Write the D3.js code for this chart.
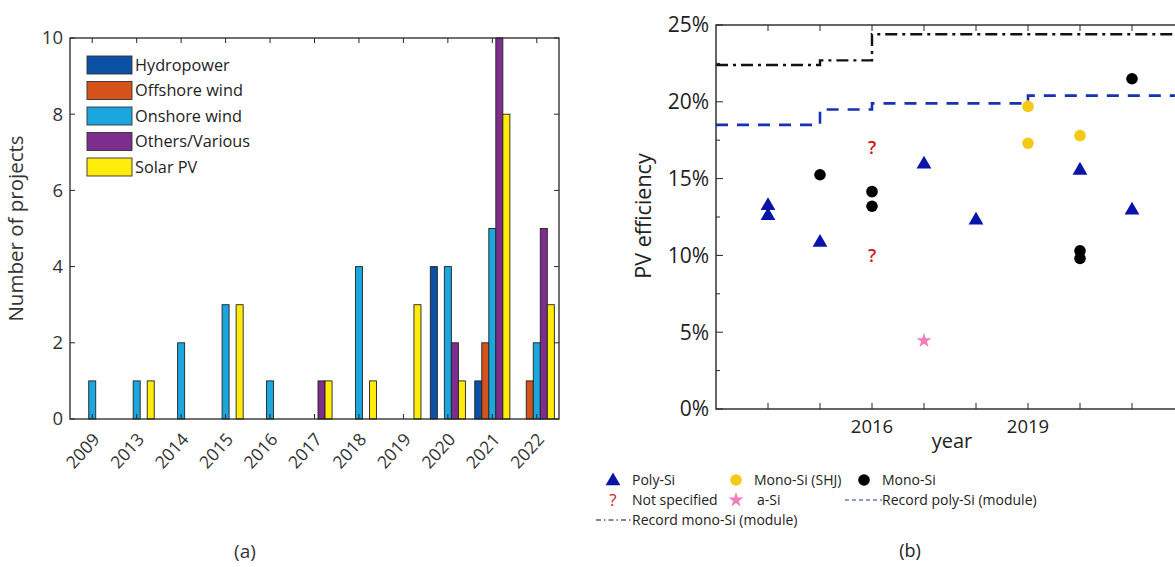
<!DOCTYPE html>
<html>
<head>
<meta charset="utf-8">
<script src="https://cdn.jsdelivr.net/npm/d3@7"></script>
<style>
  body { margin: 0; background: #fff; }
  svg { font-family: "Open Sans", sans-serif; }
</style>
</head>
<body>
<script>
// ---- data (a) ----
var years = ['2009', '2013', '2014', '2015', '2016', '2017', '2018', '2019', '2020', '2021', '2022'];
var seriesNames = ['Hydropower', 'Offshore wind', 'Onshore wind', 'Others/Various', 'Solar PV'];
var seriesColors = ['#0b50a2', '#d4531a', '#1ba6de', '#7d2e8c', '#ffec0a'];
var hydro = [0, 0, 0, 0, 0, 0, 0, 0, 4, 1, 0];
var offshore = [0, 0, 0, 0, 0, 0, 0, 0, 0, 2, 1];
var onshore = [1, 1, 2, 3, 1, 0, 4, 0, 4, 5, 2];
var others = [0, 0, 0, 0, 0, 1, 0, 0, 2, 10, 5];
var solar = [0, 1, 0, 3, 0, 1, 1, 3, 1, 8, 3];
var countTicks = [0, 2, 4, 6, 8, 10];

// ---- data (b) ----
var polyYear = [2014, 2014, 2015, 2017, 2018, 2020, 2021];
var polyEff = [13.3, 12.65, 10.9, 16.0, 12.35, 15.6, 13.0];
var monoYear = [2015, 2016, 2016, 2020, 2020, 2021];
var monoEff = [15.25, 14.15, 13.2, 10.3, 9.8, 21.5];
var shjYear = [2019, 2019, 2020];
var shjEff = [19.7, 17.3, 17.8];
var unkYear = [2016, 2016];
var unkEff = [17.0, 10.0];
var asiYear = [2017];
var asiEff = [4.45];
var recPolyYear = [2013, 2015, 2016, 2019, 2023];
var recPolyEff = [18.5, 19.5, 19.9, 20.4, 20.4];
var recMonoYear = [2013, 2015, 2016, 2023];
var recMonoEff = [22.4, 22.7, 24.4, 24.4];
var effTicks = [0, 5, 10, 15, 20, 25];
var yearLabels = [2016, 2019];

var svg = d3.select('body').append('svg')
    .attr('width', 1175)
    .attr('height', 567);

var axisColor = '#262626';

// ================= (a) grouped bars =================
var a = { left: 70, right: 559, top: 38, bottom: 419 };
var matrix = [hydro, offshore, onshore, others, solar];

var x0 = d3.scaleBand().domain(years).range([a.left, a.right]).padding(0);
var x1 = d3.scaleBand().domain(d3.range(5))
    .range([0, x0.bandwidth() * 0.79]);
var ya = d3.scaleLinear().domain([0, 10]).range([a.bottom, a.top]);
var groupOffset = (x0.bandwidth() - x0.bandwidth() * 0.79) / 2;

var ga = svg.append('g');
years.forEach(function (yr, i) {
    matrix.forEach(function (s, k) {
        if (s[i] > 0) {
            ga.append('rect')
                .attr('x', x0(yr) + groupOffset + x1(k))
                .attr('y', ya(s[i]))
                .attr('width', x1.bandwidth())
                .attr('height', ya(0) - ya(s[i]))
                .attr('fill', seriesColors[k])
                .attr('stroke', '#222')
                .attr('stroke-width', 0.9);
        }
    });
});

// frame
ga.append('rect')
    .attr('x', a.left).attr('y', a.top)
    .attr('width', a.right - a.left).attr('height', a.bottom - a.top)
    .attr('fill', 'none').attr('stroke', axisColor).attr('stroke-width', 1.3);

// ticks
years.forEach(function (yr) {
    var cx = x0(yr) + x0.bandwidth() / 2;
    ga.append('line').attr('x1', cx).attr('x2', cx).attr('y1', a.bottom).attr('y2', a.bottom - 5)
        .attr('stroke', axisColor).attr('stroke-width', 1);
    ga.append('line').attr('x1', cx).attr('x2', cx).attr('y1', a.top).attr('y2', a.top + 5)
        .attr('stroke', axisColor).attr('stroke-width', 1);
    ga.append('text')
        .attr('transform', 'translate(' + (cx + 4) + ',' + (a.bottom + 17) + ') rotate(-48)')
        .attr('text-anchor', 'end')
        .attr('dy', '0.35em')
        .attr('font-size', 17.5)
        .attr('fill', '#333')
        .text(yr);
});
countTicks.forEach(function (t) {
    ga.append('line').attr('x1', a.left).attr('x2', a.left + 5).attr('y1', ya(t)).attr('y2', ya(t))
        .attr('stroke', axisColor);
    ga.append('line').attr('x1', a.right).attr('x2', a.right - 5).attr('y1', ya(t)).attr('y2', ya(t))
        .attr('stroke', axisColor);
    ga.append('text')
        .attr('x', a.left - 7).attr('y', ya(t))
        .attr('dy', '0.35em')
        .attr('text-anchor', 'end')
        .attr('font-size', 18.5)
        .attr('fill', '#333')
        .text(t);
});
ga.append('text')
    .attr('transform', 'translate(23,' + ((a.top + a.bottom) / 2) + ') rotate(-90)')
    .attr('text-anchor', 'middle')
    .attr('font-size', 20.5)
    .attr('fill', '#333')
    .text('Number of projects');

// legend (a)
var lgA = ga.append('g').attr('transform', 'translate(87,56)');
seriesNames.forEach(function (n, k) {
    lgA.append('rect')
        .attr('x', 0).attr('y', k * 25.5)
        .attr('width', 45).attr('height', 18)
        .attr('fill', seriesColors[k])
        .attr('stroke', '#333').attr('stroke-width', 0.9);
    lgA.append('text')
        .attr('x', 48).attr('y', k * 25.5 + 9)
        .attr('dy', '0.35em')
        .attr('font-size', 16.3)
        .attr('fill', '#222')
        .text(n);
});

svg.append('text')
    .attr('x', 245).attr('y', 551)
    .attr('dy', '0.35em')
    .attr('text-anchor', 'middle')
    .attr('font-size', 19)
    .attr('fill', '#333')
    .text('(a)');

// ================= (b) PV efficiency =================
var b = { left: 716, top: 25, bottom: 409 };
var xb = d3.scaleLinear().domain([2013, 2022]).range([b.left, b.left + 9 * 52]);
var yb = d3.scaleLinear().domain([0, 25]).range([b.bottom, b.top]);

var gb = svg.append('g');

// record lines
var stepLine = d3.line()
    .x(function (d) { return xb(d[0]); })
    .y(function (d) { return yb(d[1]); })
    .curve(d3.curveStepAfter);

gb.append('path')
    .attr('d', stepLine(d3.zip(recPolyYear, recPolyEff)))
    .attr('fill', 'none')
    .attr('stroke', '#1832b4')
    .attr('stroke-width', 2.6)
    .attr('stroke-dasharray', '12,9');

gb.append('path')
    .attr('d', stepLine(d3.zip(recMonoYear, recMonoEff)))
    .attr('fill', 'none')
    .attr('stroke', '#111')
    .attr('stroke-width', 2.4)
    .attr('stroke-dasharray', '12,5,3,5');

// frame (right side runs off the page)
gb.append('rect')
    .attr('x', b.left).attr('y', b.top)
    .attr('width', xb(2022) - b.left).attr('height', b.bottom - b.top)
    .attr('fill', 'none').attr('stroke', axisColor).attr('stroke-width', 1.4);

d3.range(2014, 2023).forEach(function (yr) {
    gb.append('line').attr('x1', xb(yr)).attr('x2', xb(yr)).attr('y1', b.bottom).attr('y2', b.bottom - 6)
        .attr('stroke', axisColor);
    gb.append('line').attr('x1', xb(yr)).attr('x2', xb(yr)).attr('y1', b.top).attr('y2', b.top + 6)
        .attr('stroke', axisColor);
});
yearLabels.forEach(function (yr) {
    gb.append('text')
        .attr('x', xb(yr)).attr('y', b.bottom + 18)
        .attr('dy', '0.35em')
        .attr('text-anchor', 'middle')
        .attr('font-size', 18.5)
        .attr('fill', '#222')
        .text(yr);
});
d3.range(0, 25.1, 2.5).forEach(function (t) {
    var major = effTicks.indexOf(t) >= 0;
    gb.append('line').attr('x1', b.left).attr('x2', b.left + (major ? 7 : 4))
        .attr('y1', yb(t)).attr('y2', yb(t))
        .attr('stroke', axisColor);
});
effTicks.forEach(function (t) {
    gb.append('text')
        .attr('x', b.left - 7).attr('y', yb(t))
        .attr('dy', '0.35em')
        .attr('text-anchor', 'end')
        .attr('font-size', 21)
        .attr('fill', '#222')
        .text(t + '%');
});
gb.append('text')
    .attr('transform', 'translate(651,216) rotate(-90)')
    .attr('text-anchor', 'middle')
    .attr('font-size', 21.5)
    .attr('fill', '#222')
    .text('PV efficiency');
gb.append('text')
    .attr('x', 952).attr('y', 441)
    .attr('dy', '0.35em')
    .attr('text-anchor', 'middle')
    .attr('font-size', 20)
    .attr('fill', '#222')
    .text('year');

var triangle = d3.symbol().type(d3.symbolTriangle).size(95);
var star = d3.symbol().type(d3.symbolStar).size(70);

// markers
d3.zip(shjYear, shjEff).forEach(function (d) {
    gb.append('circle').attr('cx', xb(d[0])).attr('cy', yb(d[1])).attr('r', 5.8).attr('fill', '#f5c918');
});
d3.zip(monoYear, monoEff).forEach(function (d) {
    gb.append('circle').attr('cx', xb(d[0])).attr('cy', yb(d[1])).attr('r', 5.8).attr('fill', '#000');
});
d3.zip(polyYear, polyEff).forEach(function (d) {
    gb.append('path').attr('d', triangle)
        .attr('transform', 'translate(' + xb(d[0]) + ',' + (yb(d[1]) + 1) + ')')
        .attr('fill', '#0a14a8');
});
d3.zip(unkYear, unkEff).forEach(function (d) {
    gb.append('text')
        .attr('x', xb(d[0])).attr('y', yb(d[1]))
        .attr('dy', '0.36em')
        .attr('text-anchor', 'middle')
        .attr('font-size', 18)
        .attr('font-weight', 600)
        .attr('fill', '#d2181c')
        .text('?');
});
d3.zip(asiYear, asiEff).forEach(function (d) {
    gb.append('path').attr('d', star)
        .attr('transform', 'translate(' + xb(d[0]) + ',' + yb(d[1]) + ')')
        .attr('fill', '#f07db5');
});

// legend (b)
var lgB = svg.append('g').attr('font-size', 14).attr('fill', '#222');
lgB.append('path').attr('d', triangle).attr('transform', 'translate(613,481)').attr('fill', '#0a14a8');
lgB.append('text').attr('x', 632).attr('y', 480).attr('dy', '0.35em').text('Poly-Si');
lgB.append('circle').attr('cx', 736).attr('cy', 480).attr('r', 5.8).attr('fill', '#f5c918');
lgB.append('text').attr('x', 754).attr('y', 480).attr('dy', '0.35em').text('Mono-Si (SHJ)');
lgB.append('circle').attr('cx', 864).attr('cy', 480).attr('r', 5.8).attr('fill', '#000');
lgB.append('text').attr('x', 882).attr('y', 480).attr('dy', '0.35em').text('Mono-Si');

lgB.append('text').attr('x', 613).attr('y', 500).attr('dy', '0.36em').attr('text-anchor', 'middle')
    .attr('font-size', 17).attr('fill', '#d2181c').text('?');
lgB.append('text').attr('x', 632).attr('y', 500).attr('dy', '0.35em').text('Not specified');
lgB.append('path').attr('d', star).attr('transform', 'translate(736,500)').attr('fill', '#f07db5');
lgB.append('text').attr('x', 757).attr('y', 500).attr('dy', '0.35em').text('a-Si');
lgB.append('line').attr('x1', 845).attr('x2', 882).attr('y1', 500).attr('y2', 500)
    .attr('stroke', '#1832b4').attr('stroke-width', 1).attr('stroke-dasharray', '4,3');
lgB.append('text').attr('x', 882).attr('y', 500).attr('dy', '0.35em').text('Record poly-Si (module)');

lgB.append('line').attr('x1', 596).attr('x2', 632).attr('y1', 520).attr('y2', 520)
    .attr('stroke', '#111').attr('stroke-width', 1).attr('stroke-dasharray', '5,3,1.5,3');
lgB.append('text').attr('x', 632).attr('y', 520).attr('dy', '0.35em').text('Record mono-Si (module)');

svg.append('text')
    .attr('x', 910).attr('y', 551)
    .attr('dy', '0.35em')
    .attr('text-anchor', 'middle')
    .attr('font-size', 18)
    .attr('fill', '#222')
    .text('(b)');
</script>
</body>
</html>
